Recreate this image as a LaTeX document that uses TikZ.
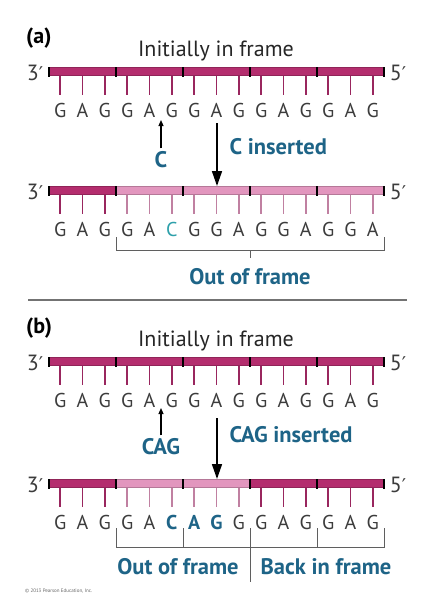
\documentclass[tikz,border=0pt]{standalone}
\usepackage{fontspec}
\setmainfont{PT Sans}
\newfontfamily\primefont{DejaVu Sans}
\usetikzlibrary{arrows.meta,positioning}
\definecolor{dnadark}{RGB}{180,45,110}
\definecolor{dnalight}{RGB}{226,150,190}
\definecolor{lblblue}{RGB}{30,100,135}
\definecolor{insblue}{RGB}{45,160,170}
\definecolor{basegray}{RGB}{60,60,60}
\definecolor{brkgray}{RGB}{95,95,95}
\newcommand{\insa}[1]{\textcolor{insblue}{#1}}
\newcommand{\insb}[1]{\textcolor{lblblue}{\bfseries #1}}
\newcommand{\pr}{{\primefont\fontsize{19}{22}\selectfont ′}}
% #1 name, #2 bar top, #3 codon colours, #4 bases
\newcommand{\dnastrand}[4]{%
  \foreach \c [count=\k from 0] in {#3}{
    \fill[\c, draw=\c!80!black, line width=0.3pt] ({49+67*\k},{#2-0.5}) rectangle ++(67,8);
    \foreach \j in {0,1,2}
      \draw[stem, \c!85!black] ({60.17+67*\k+22.33*\j},{#2+7.5}) -- ++(0,19.5);
  }
  \foreach \k in {0,...,5}
    \fill[black] ({49+67*\k-1.2},{#2-1.5}) rectangle ++(2.4,10);
  \foreach \b [count=\i from 0] in {#4}
    \node[basech] (#1-\i) at ({60.17+22.33*\i},{#2+49}) {\b};
  \node[prime] (#1-3p) at (35,{#2+5}) {3\pr};
  \node[prime] (#1-5p) at (398,{#2+5}) {5\pr};
}
\begin{document}
\begin{tikzpicture}[x=1pt, y=-1pt, >=Stealth,
    basech/.style={anchor=base, inner sep=0pt, text=basegray, font=\fontsize{20}{24}\selectfont},
    prime/.style={inner sep=0pt, text=basegray, font=\fontsize{22}{26}\selectfont},
    stem/.style={line width=1.4pt},
    lbl/.style={text=lblblue, font=\bfseries\fontsize{22.5}{26}\selectfont},
    heading/.style={anchor=base, text=black!85, font=\fontsize{22}{26}\selectfont},
    panel/.style={anchor=base west, inner sep=0pt, font=\bfseries\fontsize{22}{26}\selectfont},
    brk/.style={draw=brkgray, line width=0.9pt},
    drop/.style={line width=1.6pt, -{Triangle[length=15pt,width=10pt]}},
    poke/.style={line width=1.2pt, -{Triangle[length=6pt,width=5pt]}}]
  \useasboundingbox[fill=white] (0,0) rectangle (436,606);

  % (a) single insertion
  \node[panel] (pa) at (26,43) {(a)};
  \node[heading] (ha) at (216,56) {Initially in frame};
  \dnastrand{a1}{68}{dnadark,dnadark,dnadark,dnadark,dnadark}{G,A,G,G,A,G,G,A,G,G,A,G,G,A,G}
  \node[lbl] (insa) at (161,160) {C};
  \coordinate (pokea) at (161,120);
  \draw[poke] (insa.north) -- (pokea);
  \coordinate (dropa) at (217,123);
  \coordinate (dropa-tip) at (217,186);
  \draw[drop] (dropa) -- (dropa-tip);
  \node[lbl, anchor=west] (txta) at (226,147) {C inserted};
  \dnastrand{a2}{187}{dnadark,dnalight,dnalight,dnalight,dnalight}{G,A,G,G,A,\insa{C},G,G,A,G,G,A,G,G,A}
  \draw[brk] (116,237) -- (116,250) -- (384,250) -- (384,237);
  \draw[brk] (250,250) -- (250,258);
  \node[lbl] (outa) at (250,277) {Out of frame};

  \draw[draw=black!55, line width=1.2pt] (28,300) -- (407,300);

  % (b) triplet insertion
  \node[panel] (pb) at (26,333) {(b)};
  \node[heading] (hb) at (216,346) {Initially in frame};
  \dnastrand{b1}{358}{dnadark,dnadark,dnadark,dnadark,dnadark}{G,A,G,G,A,G,G,A,G,G,A,G,G,A,G}
  \node[lbl] (insb) at (161,447) {CAG};
  \coordinate (pokeb) at (161,408);
  \draw[poke] (insb.north) -- (pokeb);
  \coordinate (dropb) at (217,418);
  \coordinate (dropb-tip) at (217,479);
  \draw[drop] (dropb) -- (dropb-tip);
  \node[lbl, anchor=west] (txtb) at (226,435) {CAG inserted};
  \dnastrand{b2}{480}{dnadark,dnalight,dnalight,dnadark,dnadark}{G,A,G,G,A,\insb{C},\insb{A},\insb{G},G,G,A,G,G,A,G}
  \draw[brk] (116,528) -- (116,547) -- (384,547) -- (384,528);
  \foreach \x in {183,317}
    \draw[brk] (\x,528) -- (\x,547);
  \draw[brk] (250,528) -- (250,582);
  \node[lbl] (outb) at (178,567) {Out of frame};
  \node[lbl] (backb) at (326,567) {Back in frame};

  \node[anchor=west, inner sep=0pt, text=black!60, font=\fontsize{5}{6}\selectfont] (copy) at (25,591) {© 2013 Pearson Education, Inc.};
\end{tikzpicture}
\end{document}
